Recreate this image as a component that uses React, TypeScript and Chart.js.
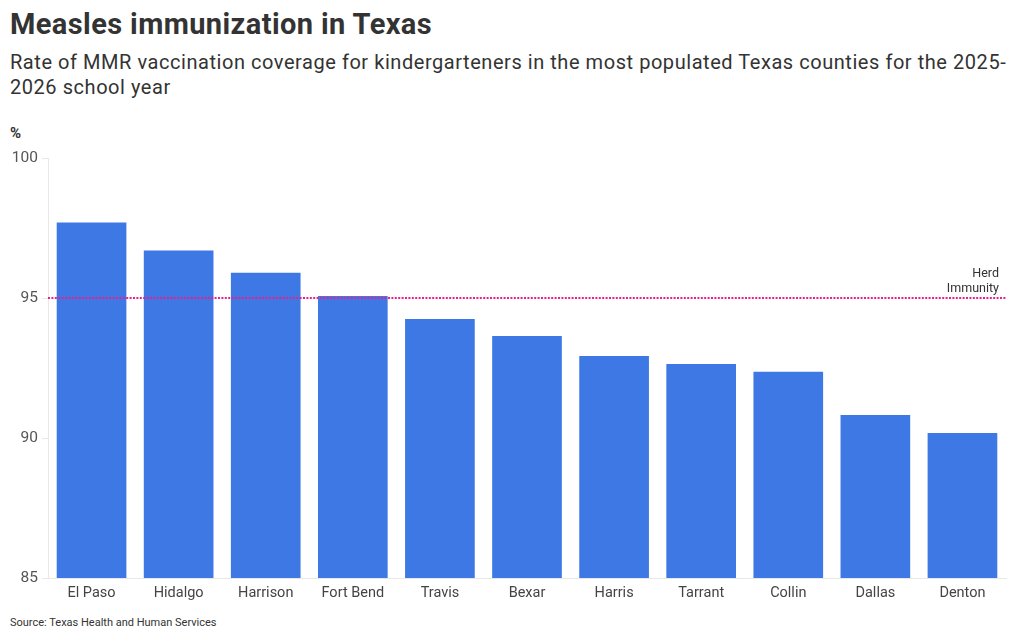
import { useEffect, useRef } from "react"
import { Chart, registerables } from "chart.js"
import type { Plugin } from "chart.js"

Chart.register(...registerables)

const counties = [
  "El Paso",
  "Hidalgo",
  "Harrison",
  "Fort Bend",
  "Travis",
  "Bexar",
  "Harris",
  "Tarrant",
  "Collin",
  "Dallas",
  "Denton",
]
const coverage = [97.7, 96.7, 95.9, 95.07, 94.25, 93.64, 92.93, 92.64, 92.37, 90.82, 90.18]
const herdImmunity = 95
const yTicks = [85, 90, 95, 100]

const FONT = "Roboto, 'Noto Sans', sans-serif"

// 집단면역 기준선 + 라벨
const herdLine: Plugin<"bar"> = {
  id: "herdLine",
  afterDatasetsDraw(chart) {
    const { ctx, chartArea } = chart
    const y = chart.scales.y.getPixelForValue(herdImmunity)
    ctx.save()
    ctx.strokeStyle = "#ec1f8a"
    ctx.lineWidth = 2
    ctx.setLineDash([2, 1.4])
    ctx.beginPath()
    ctx.moveTo(chartArea.left, y)
    ctx.lineTo(chartArea.right, y)
    ctx.stroke()
    ctx.setLineDash([])
    ctx.fillStyle = "#333"
    ctx.font = `12.5px ${FONT}`
    ctx.textAlign = "right"
    ctx.textBaseline = "alphabetic"
    ctx.fillText("Herd", chartArea.right - 7, y - 21)
    ctx.fillText("Immunity", chartArea.right - 7, y - 6)
    ctx.restore()
  },
}

export default function App() {
  const chartRef = useRef<HTMLCanvasElement | null>(null)
  const chartInstance = useRef<Chart | null>(null)

  useEffect(() => {
    if (!chartRef.current) return
    if (chartInstance.current) chartInstance.current.destroy()

    document.body.style.margin = "0"

    chartInstance.current = new Chart(chartRef.current, {
      type: "bar",
      data: {
        labels: counties,
        datasets: [
          {
            label: "MMR coverage",
            data: coverage,
            backgroundColor: "#3e78e4",
            barPercentage: 0.8,
            categoryPercentage: 1,
          },
        ],
      },
      options: {
        animation: false,
        responsive: true,
        maintainAspectRatio: false,
        layout: { padding: { top: 18, right: 14, bottom: 0, left: 0 } },
        plugins: {
          legend: { display: false },
          tooltip: { enabled: false },
        },
        scales: {
          x: {
            grid: { display: false, drawTicks: false },
            border: { display: true, color: "#e8e8e8" },
            ticks: {
              color: "#444",
              font: { family: FONT, size: 14.5 },
              padding: 7,
              maxRotation: 0,
            },
            afterFit: (scale) => {
              scale.height = 32
            },
          },
          y: {
            min: 85,
            max: 100,
            afterBuildTicks: (scale) => {
              scale.ticks = yTicks.map((v) => ({ value: v }))
            },
            grid: { drawOnChartArea: false, drawTicks: true, tickLength: 6, color: "#e8e8e8" },
            border: { display: true, color: "#e8e8e8" },
            ticks: {
              color: "#555",
              font: { family: FONT, size: 15.5 },
              padding: 4,
            },
            afterFit: (scale) => {
              scale.width = 48
            },
          },
        },
      },
      plugins: [herdLine],
    })

    return () => {
      if (chartInstance.current) {
        chartInstance.current.destroy()
        chartInstance.current = null
      }
    }
  }, [])

  return (
    <div style={{ position: "relative", width: 1020, height: 642, fontFamily: FONT, color: "#333" }}>
      <div
        style={{
          position: "absolute",
          left: 10,
          top: 7,
          fontSize: 29,
          fontWeight: 700,
          letterSpacing: 0.4,
          color: "#333",
        }}
      >
        Measles immunization in Texas
      </div>
      <div
        style={{
          position: "absolute",
          left: 10,
          top: 50,
          width: 1000,
          fontSize: 20,
          lineHeight: "25px",
          letterSpacing: 0.55,
          color: "#333",
        }}
      >
        Rate of MMR vaccination coverage for kindergarteners in the most populated Texas counties for the 2025-2026
        school year
      </div>
      <div style={{ position: "absolute", left: 10, top: 124, fontSize: 15, fontWeight: 700, color: "#333" }}>%</div>
      <div style={{ position: "absolute", left: 0, top: 140, width: 1020, height: 470 }}>
        <canvas ref={chartRef}></canvas>
      </div>
      <div style={{ position: "absolute", left: 10, top: 616, fontSize: 11, color: "#333" }}>
        Source: Texas Health and Human Services
      </div>
    </div>
  )
}
